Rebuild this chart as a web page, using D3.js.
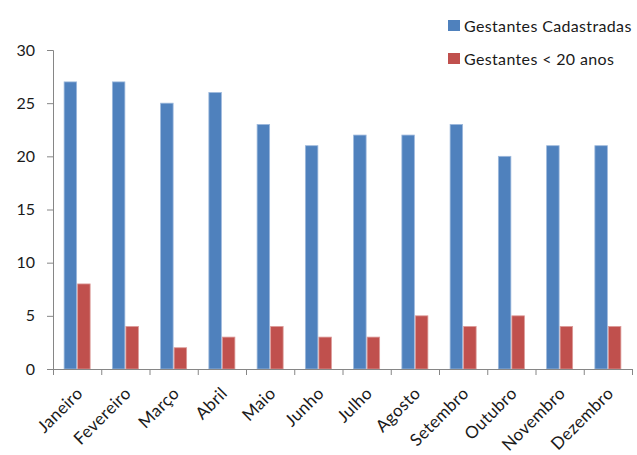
<!DOCTYPE html>
<html>
<head>
<meta charset="utf-8">
<script src="https://cdn.jsdelivr.net/npm/d3@7"></script>
<style>
body { margin: 0; background: #fff; }
text { font-family: Lato, "Open Sans", sans-serif; fill: #1a1a1a; }
</style>
</head>
<body>
<div id="chart"></div>
<script>
'use strict';

var months = ['Janeiro', 'Fevereiro', 'Março', 'Abril', 'Maio', 'Junho', 'Julho', 'Agosto', 'Setembro', 'Outubro', 'Novembro', 'Dezembro'];
var cadastradas = [27, 27, 25, 26, 23, 21, 22, 22, 23, 20, 21, 21];
var menores20 = [8, 4, 2, 3, 4, 3, 3, 5, 4, 5, 4, 4];
var seriesNames = ['Gestantes Cadastradas', 'Gestantes < 20 anos'];
var yTicks = [0, 5, 10, 15, 20, 25, 30];

var colors = ['#4F81BD', '#C0504D'];
var strokes = ['#9db9dc', '#dc9a98'];

var svg = d3.select('#chart').append('svg')
	.attr('width', 637)
	.attr('height', 455);

var margin = {top: 50, right: 5, bottom: 86, left: 53};
var width = 632 - margin.left;
var height = 369 - margin.top;

var g = svg.append('g').attr('transform', 'translate(' + margin.left + ',' + margin.top + ')');

var xscale = d3.scaleBand()
	.domain(months)
	.range([0, width])
	.paddingInner(0.44)
	.paddingOuter(0.22);

var yscale = d3.scaleLinear()
	.domain([0, 30])
	.range([height, 0]);

var inner = d3.scaleBand()
	.domain([0, 1])
	.range([0, xscale.bandwidth()]);

var data = months.map(function(m, i) {
	return {month: m, values: [cadastradas[i], menores20[i]]};
});

// bars
var group = g.selectAll('.month')
	.data(data)
.enter().append('g')
	.attr('class', 'month')
	.attr('transform', function(d) { return 'translate(' + xscale(d.month) + ',0)'; });

group.selectAll('rect')
	.data(function(d) { return d.values.map(function(v, k) { return {k: k, v: v}; }); })
.enter().append('rect')
	.attr('x', function(d) { return inner(d.k) + 0.5; })
	.attr('y', function(d) { return yscale(d.v); })
	.attr('width', inner.bandwidth() - 1)
	.attr('height', function(d) { return height - yscale(d.v); })
	.style('fill', function(d) { return colors[d.k]; })
	.style('stroke', function(d) { return strokes[d.k]; })
	.style('stroke-width', 0.8);

// y axis
var yaxis = g.append('g')
	.call(d3.axisLeft(yscale).tickValues(yTicks).tickSize(6).tickPadding(12));
yaxis.select('.domain').attr('stroke', '#868686').attr('d', 'M-6,0.5H0.5V' + height);
yaxis.selectAll('.tick line').attr('stroke', '#868686');
yaxis.selectAll('.tick text')
	.style('font-size', '16px')
	.attr('fill', '#1a1a1a');

// x axis with ticks on the band edges
var xaxis = g.append('g')
	.attr('transform', 'translate(0,' + height + ')');
xaxis.append('line')
	.attr('x1', 0).attr('x2', width)
	.attr('y1', 0.5).attr('y2', 0.5)
	.attr('stroke', '#868686');
var edges = d3.range(months.length + 1).map(function(i) { return i * width / months.length; });
xaxis.selectAll('.edge')
	.data(edges)
.enter().append('line')
	.attr('class', 'edge')
	.attr('x1', function(d) { return d + 0.5; })
	.attr('x2', function(d) { return d + 0.5; })
	.attr('y1', 0).attr('y2', 6)
	.attr('stroke', '#868686');

xaxis.selectAll('.label')
	.data(months)
.enter().append('text')
	.attr('class', 'label')
	.attr('text-anchor', 'end')
	.attr('transform', function(d) {
		return 'translate(' + (xscale(d) + xscale.bandwidth() / 2 - 2) + ',17) rotate(-45)';
	})
	.attr('dy', '0.71em')
	.style('font-size', '17px')
	.style('letter-spacing', '0.3px')
	.text(function(d) { return d; });

// legend
var legend = svg.append('g').attr('transform', 'translate(448,20)');
var item = legend.selectAll('g')
	.data(seriesNames)
.enter().append('g')
	.attr('transform', function(d, i) { return 'translate(0,' + (i * 33) + ')'; });
item.append('rect')
	.attr('width', 12)
	.attr('height', 11)
	.style('fill', function(d, i) { return colors[i]; });
item.append('text')
	.attr('x', 16)
	.attr('y', 12)
	.style('font-size', '16px')
	.style('letter-spacing', '0.35px')
	.text(function(d) { return d; });
</script>
</body>
</html>
